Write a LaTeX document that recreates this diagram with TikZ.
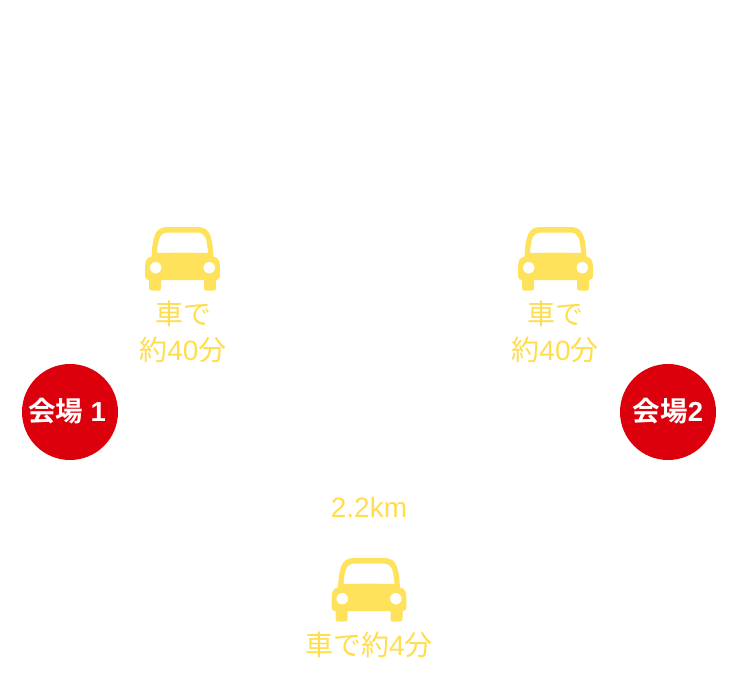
\documentclass[tikz,border=0pt]{standalone}
\usepackage{fontspec}
\setmainfont{Liberation Sans}
\newfontfamily\cjk{Noto Sans CJK JP}
\newfontfamily\cjkb{Noto Sans CJK JP}[BoldFont={* Bold}]
\definecolor{caryellow}{HTML}{FFE25C}
\definecolor{labelyellow}{HTML}{FFDD4D}
\definecolor{venuered}{HTML}{DC000C}
\tikzset{
  x=1pt,y=-1pt,
  carlabel/.style={text=labelyellow,inner sep=0,anchor=center,font=\fontsize{28}{28}\selectfont},
  venue/.style={circle,fill=venuered,minimum size=96pt,inner sep=0},
  venuetext/.style={text=white,inner sep=0,font=\fontsize{27.5}{28}\selectfont\bfseries},
  car/.pic={
    \fill[caryellow,even odd rule]
      (-37.3,38) .. controls (-37,33) and (-35.5,30.5) .. (-31,29.5)
      .. controls (-30.5,21) and (-30,15) .. (-28,9)
      .. controls (-26,3) and (-22,0) .. (-15,0)
      -- (15,0)
      .. controls (22,0) and (26,3) .. (28,9)
      .. controls (30,15) and (30.5,21) .. (31,29.5)
      .. controls (35.5,30.5) and (37,33) .. (37.3,38)
      -- (37.5,49)
      .. controls (37.5,52) and (36,53) .. (33.5,53)
      -- (33.5,60.5) .. controls (33.5,63) and (33,63.5) .. (31,63.5)
      -- (24,63.5) .. controls (22,63.5) and (21.5,63) .. (21.5,60.5)
      -- (21.5,53) -- (-21.5,53)
      -- (-21.5,60.5) .. controls (-21.5,63) and (-22,63.5) .. (-24,63.5)
      -- (-31,63.5) .. controls (-33,63.5) and (-33.5,63) .. (-33.5,60.5)
      -- (-33.5,53)
      .. controls (-36,53) and (-37.5,52) .. (-37.5,49)
      -- cycle
      (-25.5,26) .. controls (-25,20) and (-24.5,15) .. (-23,11)
      .. controls (-21.5,7) and (-18,5.5) .. (-14,5.5)
      -- (14,5.5)
      .. controls (18,5.5) and (21.5,7) .. (23,11)
      .. controls (24.5,15) and (25,20) .. (25.5,26)
      .. controls (10,25.6) and (-10,25.6) .. (-25.5,26)
      -- cycle
      (-26.8,40.7) circle (5.8)
      (26.8,40.7) circle (5.8);
  }
}
\begin{document}
\begin{tikzpicture}
\useasboundingbox (0,0) rectangle (738,680);
\pic at (182.5,227) {car};
\pic at (555.5,227) {car};
\pic at (369,558) {car};
\node[carlabel] (a1) at (183,314) {{\cjk 車で}};
\node[carlabel] (a2) at (183,350) {{\cjk 約}40{\cjk 分}};
\node[carlabel] (b1) at (555,314) {{\cjk 車で}};
\node[carlabel] (b2) at (555,350) {{\cjk 約}40{\cjk 分}};
\node[carlabel] (dist) at (369,507) {2.2km};
\node[carlabel] (c1) at (369,645) {{\cjk 車で約}4{\cjk 分}};
\node[venue] (v1) at (70,412) {};
\node[venue] (v2) at (668,412) {};
\node[venuetext] (t1) at (67,411) {{\cjkb\bfseries 会場} 1};
\node[venuetext] (t2) at (668,411) {{\cjkb\bfseries 会場}2};
\end{tikzpicture}
\end{document}
